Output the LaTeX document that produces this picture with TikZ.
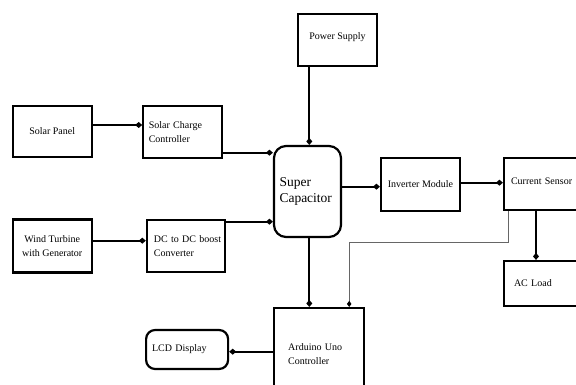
\documentclass[tikz,border=0pt]{standalone}
\usepackage{fontspec}
\setmainfont{Liberation Serif}
\usetikzlibrary{arrows.meta}
\begin{document}
\begin{tikzpicture}[x=1pt,y=-1pt,
  box/.style={draw=black,line width=2.2pt,rectangle,inner sep=0pt,font=\fontsize{10}{14}\selectfont},
  rbox/.style={box,rounded corners=9pt},
  arr/.style={line width=2.1pt,-{Diamond[length=7pt,width=6pt]}},
  garr/.style={line width=0.8pt,draw=gray!80!black,-{Diamond[length=6pt,width=4.5pt,fill=black,color=black]}}
]
\useasboundingbox[fill=white] (0,0) rectangle (576,385);
% boxes
\node[box,minimum width=79pt,minimum height=51pt] (SP) at (52.2,131.3) {Solar Panel};
\node[box,minimum width=79pt,minimum height=52pt,text width=74pt,align=left] (SCC) at (182.8,132.2) {\hspace*{3pt}Solar Charge\\\hspace*{3pt}Controller};
\node[box,minimum width=79pt,minimum height=53pt,align=center] (WT) at (52.2,246) {Wind Turbine\\with Generator};
\node[box,minimum width=78pt,minimum height=52pt,text width=74pt,align=left] (DC) at (185.9,245.9) {\hspace*{5pt}DC to DC boost\\\hspace*{5pt}Converter};
\node[rbox,rounded corners=12pt,minimum width=67pt,minimum height=91pt,text width=62pt,align=left,font=\fontsize{13.5}{15.5}\selectfont] (SC) at (307.5,191.5) {\raisebox{8pt}{\parbox{62pt}{\hspace*{3pt}Super\\\hspace*{3pt}Capacitor}}};
\node[box,minimum width=79pt,minimum height=52pt] (PS) at (337.5,40) {\raisebox{7pt}{Power Supply}};
\node[box,minimum width=79pt,minimum height=53pt] (INV) at (420.5,184.5) {Inverter Module};
\node[box,minimum width=86pt,minimum height=52pt,text width=82pt,align=left] (CS) at (547,184) {\raisebox{6pt}{\hspace*{5pt}Current Sensor}};
\node[box,minimum width=86pt,minimum height=45pt,text width=82pt,align=left] (AC) at (547,283.5) {\hspace*{8pt}AC Load};
\node[box,minimum width=90pt,minimum height=92pt,text width=84pt,align=left] (AR) at (319.2,354) {\raisebox{6pt}{\parbox{82pt}{\hspace*{11pt}Arduino Uno\\\hspace*{11pt}Controller}}};
\node[rbox,minimum width=82pt,minimum height=39pt,text width=80pt,align=left] (LCD) at (187.1,349.5) {\hspace*{5pt}LCD Display};
% connectors
\draw[arr] ([yshift=6.3pt]SP.east) -- ([yshift=6.3pt]SP.east -| SCC.west);
\draw[arr] ([yshift=-20.5pt]SCC.east) -- ([yshift=-20.5pt]SCC.east -| SC.west);
\draw[arr] ([yshift=5.3pt]WT.east) -- ([yshift=5.3pt]WT.east -| DC.west);
\draw[arr] ([yshift=24.2pt]DC.east) -- ([yshift=24.2pt]DC.east -| SC.west);
\draw[arr] ([xshift=1.8pt]SC.north |- PS.south) -- ([xshift=1.8pt]SC.north);
\draw[arr] ([yshift=4.8pt]SC.east) -- ([yshift=4.8pt]SC.east -| INV.west);
\draw[arr] ([yshift=1.8pt]INV.east) -- ([yshift=1.8pt]INV.east -| CS.west);
\draw[arr] ([xshift=-11pt]CS.south) -- ([xshift=-11pt]AC.north);
\draw[arr] ([xshift=1.8pt]SC.south) -- ([xshift=1.8pt]SC.south |- AR.north);
\draw[arr] ([yshift=2.3pt]AR.west) -- ([yshift=2.3pt]AR.west -| LCD.east);
\draw[garr] ([xshift=-38.7pt]CS.south) -- ++(0,31.7) -| ([xshift=30pt]AR.north);
\end{tikzpicture}
\end{document}
